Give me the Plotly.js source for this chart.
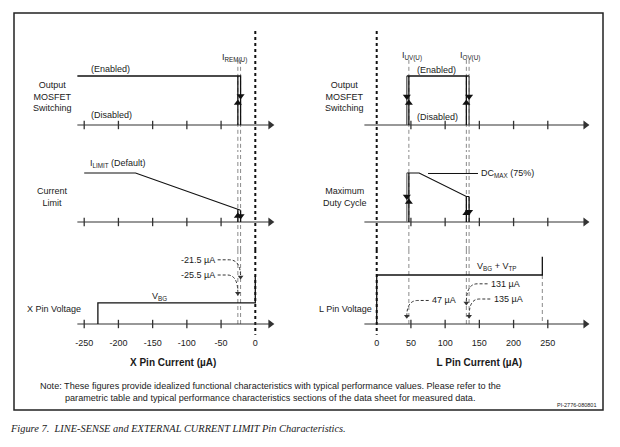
<!DOCTYPE html>
<html><head><meta charset="utf-8">
<script src="https://cdn.plot.ly/plotly-3.0.1.min.js"></script>
<style>html,body{margin:0;padding:0;background:#fff}#chart{width:620px;height:447px}</style>
</head><body><div id="chart"></div>
<script>
// ================= DATA =================
const xTicksLeft  = [-250, -200, -150, -100, -50, 0];
const xTicksRight = [0, 50, 100, 150, 200, 250];
const xTickTextLeft  = ['-250', '-200', '-150', '-100', '-50', '0'];
const xTickTextRight = ['0', '50', '100', '150', '200', '250'];

// X pin (external current limit / remote) thresholds, µA
const iRemOn  = -25.5;   // enable (up arrow)
const iRemOff = -21.5;   // disable (down arrow)
// L pin thresholds, µA
const iUvOff = 44;       // under-voltage: disable on falling current
const iUvOn  = 47;       // under-voltage: enable on rising current
const iOvOn  = 131;      // over-voltage: re-enable on falling current
const iOvOff = 135;      // over-voltage: disable on rising current
const lPinMax = 242;     // end of L pin voltage plateau

// levels (0 = disabled / zero, 1 = enabled / full)
const switchLeftX  = [-260, iRemOff, iRemOff];
const switchLeftY  = [1, 1, 0];
const iLimitX = [-250, -175, iRemOff];
const iLimitY = [1, 1, 0.24];
const iLimitAtOn = 0.26;
const xPinVX = [-230, -230, 0, 0];
const xPinVY = [0, 0.43, 0.43, 0.98];

const switchRightX = [iUvOff, iOvOff];
const switchRightY = [1, 1];
const dcMaxX = [iUvOff, 62, iOvOn, iOvOff];
const dcMaxY = [1, 1, 0.52, 0.52];
const lPinVX = [0, 0, lPinMax, lPinMax];
const lPinVY = [0, 1, 1, 1.37];

// ================= LAYOUT HELPERS =================
const W = 620, H = 447, UNIT = 49;
const rows = [{base:125, top:27, bot:150}, {base:222, top:150, bot:250}, {base:324, top:250, bot:336}];
const yNames = ['y', 'y2', 'y3'];
const pxPerUA = 0.6844;
const left = {zero:255.3, range:[-270, 30]};
const right = {zero:376.7, range:[-20, 320]};
function xdom(p){ return [(p.zero + p.range[0]*pxPerUA)/W, (p.zero + p.range[1]*pxPerUA)/W]; }
function yr(r){ return [(r.base - r.bot)/UNIT, (r.base - r.top)/UNIT]; }
function pxX(p){ return p / W; }
function pxY(p){ return 1 - p / H; }

const traces = [];
const shapes = [];
const ann = [];
const FONT = 'Liberation Sans, Arial, sans-serif';
const TXT = '#1a1a1a';

function line(xa, row, xs, ys, color, width, dash) {
  traces.push({type:'scatter', mode:'lines', x:xs, y:ys, xaxis:xa, yaxis:yNames[row],
    hoverinfo:'skip', showlegend:false,
    line:{color:color||'#111', width:width||1.2, dash:dash||'solid'}});
}
function mark(xa, row, xs, ys, symbol, size, color) {
  traces.push({type:'scatter', mode:'markers', x:xs, y:ys, xaxis:xa, yaxis:yNames[row],
    hoverinfo:'skip', showlegend:false, cliponaxis:false,
    marker:{symbol:symbol, size:size, color:color||'#111', line:{width:0}}});
}
function ticks(xa, row, vals) {
  traces.push({type:'scatter', mode:'markers', x:vals, y:vals.map(()=>0), xaxis:xa, yaxis:yNames[row],
    hoverinfo:'skip', showlegend:false, cliponaxis:false,
    marker:{symbol:'line-ns', size:6, line:{width:1.3, color:'#333'}}});
}
function axisArrow(xa, row, x0, x1) {
  line(xa, row, [x0, x1], [0, 0], '#333', 1.1);
  mark(xa, row, [x1], [0], 'triangle-right', 8, '#333');
}
function txt(xr, yref, x, y, text, xanchor, size, extra) {
  ann.push(Object.assign({xref:xr, yref:yref, x:x, y:y, text:text, showarrow:false,
    xanchor:xanchor||'left', yanchor:'middle', align:'center',
    font:{family:FONT, size:size||9, color:TXT}}, extra||{}));
}
function leader(xr, yref, row, sx, sy, hx, tx, ty) {
  shapes.push({type:'path', xref:xr, yref:yref, layer:'above',
    path:`M ${sx},${sy} L ${hx},${sy} Q ${tx},${sy} ${tx},${ty}`,
    line:{color:'#333', width:1, dash:'3px,2px'}});
  mark(xr, row, [tx], [ty], 'triangle-down', 5, '#333');
}

// ================= LEFT PANEL (X pin) =================
const DASH = '4px,3px';
line('x', 0, [0, 0], [1.92, yr(rows[0])[0]], '#111', 2, 'dot');
line('x', 1, [0, 0], yr(rows[1]), '#111', 2, 'dot');
line('x', 2, [0, 0], [yr(rows[2])[1], -0.22], '#111', 2, 'dot');
[iRemOn, iRemOff].forEach(v => {
  line('x', 0, [v, v], [1.33, yr(rows[0])[0]], '#8a8a8a', 1, DASH);
  line('x', 1, [v, v], yr(rows[1]), '#8a8a8a', 1, DASH);
  line('x', 2, [v, v], [yr(rows[2])[1], 0], '#8a8a8a', 1, DASH);
});
for (let r = 0; r < 3; r++) {
  axisArrow('x', r, -260, 22);
  ticks('x', r, xTicksLeft.slice(0, 5));
}
// row 1: switching
line('x', 0, switchLeftX, switchLeftY, '#111', 1.3);
line('x', 0, [iRemOn, iRemOn], [0, 1], '#111', 1.3);
mark('x', 0, [iRemOff], [0.59], 'triangle-down', 7);
mark('x', 0, [iRemOn], [0.45], 'triangle-up', 7);
// row 2: current limit
line('x', 1, iLimitX, iLimitY, '#111', 1.2);
line('x', 1, [iRemOff, iRemOff], [iLimitY[2], 0], '#111', 1.3);
line('x', 1, [iRemOn, iRemOn], [0, iLimitAtOn], '#111', 1.3);
mark('x', 1, [iRemOn], [0.12], 'triangle-up', 7);
mark('x', 1, [iRemOff], [0.12], 'triangle-down', 7);
// row 3: X pin voltage
line('x', 2, xPinVX, xPinVY, '#111', 1.3);

// ================= RIGHT PANEL (L pin) =================
line('x2', 0, [0, 0], [1.92, yr(rows[0])[0]], '#111', 2, 'dot');
line('x2', 1, [0, 0], yr(rows[1]), '#111', 2, 'dot');
line('x2', 2, [0, 0], [yr(rows[2])[1], -0.22], '#111', 2, 'dot');
[iUvOn, iOvOn, iOvOff].forEach(v => {
  line('x2', 0, [v, v], [1.33, yr(rows[0])[0]], '#8a8a8a', 1, DASH);
  line('x2', 1, [v, v], yr(rows[1]), '#8a8a8a', 1, DASH);
  line('x2', 2, [v, v], [yr(rows[2])[1], 0], '#8a8a8a', 1, DASH);
});
line('x2', 2, [lPinMax, lPinMax], [1, 0], '#8a8a8a', 1, DASH);
for (let r = 0; r < 3; r++) {
  axisArrow('x2', r, -18, 305);
  ticks('x2', r, xTicksRight.slice(1));
}
// row 1: switching
line('x2', 0, switchRightX, switchRightY, '#111', 1.3);
line('x2', 0, [iUvOff, iUvOff], [1, 0], '#555', 1.3);
line('x2', 0, [iUvOn, iUvOn], [0, 1], '#111', 1.3);
line('x2', 0, [iOvOn, iOvOn], [0, 1], '#111', 1.3);
line('x2', 0, [iOvOff, iOvOff], [1, 0], '#555', 1.3);
mark('x2', 0, [iUvOff, iOvOff], [0.58, 0.58], 'triangle-down', 7);
mark('x2', 0, [iUvOn, iOvOn], [0.45, 0.45], 'triangle-up', 7);
// row 2: max duty cycle
line('x2', 1, dcMaxX, dcMaxY, '#111', 1.2);
line('x2', 1, [iUvOff, iUvOff], [1, 0], '#777', 1.3);
line('x2', 1, [iUvOn, iUvOn], [0, 1], '#111', 1.3);
line('x2', 1, [iOvOn, iOvOn], [0, dcMaxY[2]], '#111', 1.3);
line('x2', 1, [iOvOff, iOvOff], [dcMaxY[3], 0], '#111', 1.3);
mark('x2', 1, [iUvOff], [0.52], 'triangle-down', 7);
mark('x2', 1, [iUvOn], [0.41], 'triangle-up', 7);
mark('x2', 1, [iOvOn], [0.18], 'triangle-up', 7);
mark('x2', 1, [iOvOff], [0.21], 'triangle-down', 7);
line('x2', 1, [75, 148], [0.99, 0.99], '#111', 1);   // DC_MAX leader
// row 3: L pin voltage
line('x2', 2, lPinVX, lPinVY, '#111', 1.3);

// ================= TEXT =================
txt('x', 'y', -243, 1.14, '(Enabled)');
txt('x', 'y', -243, 0.2, '(Disabled)');
txt('x', 'y', -51, 1.36, 'I<sub>REM(U)</sub>');
txt('x', 'y2', -244, 1.2, 'I<sub>LIMIT</sub> (Default)');
txt('x', 'y3', -140, 0.57, 'V<sub>BG</sub>', 'center');
txt('x', 'y3', -56, 1.31, '-21.5 µA', 'right');
txt('x', 'y3', -56, 1.0, '-25.5 µA', 'right');
leader('x', 'y3', 2, -55, 1.31, -38, iRemOff, 0.96);
leader('x', 'y3', 2, -55, 1.0, -41, iRemOn, 0.63);
txt('x2', 'y', 56, 1.12, '(Enabled)');
txt('x2', 'y', 56, 0.16, '(Disabled)');
txt('x2', 'y', 34, 1.41, 'I<sub>UV(U)</sub>');
txt('x2', 'y', 119, 1.41, 'I<sub>OV(U)</sub>');
txt('x2', 'y2', 150, 0.99, 'DC<sub>MAX</sub> (75%)');
txt('x2', 'y3', 144, 1.18, 'V<sub>BG</sub> + V<sub>TP</sub>');
txt('x2', 'y3', 78, 0.48, '47 µA');
txt('x2', 'y3', 164, 0.82, '131 µA');
txt('x2', 'y3', 168, 0.51, '135 µA');
leader('x2', 'y3', 2, 76, 0.48, 60, iUvOff, 0.16);
leader('x2', 'y3', 2, 162, 0.82, 147, iOvOn, 0.43);
leader('x2', 'y3', 2, 166, 0.51, 150, iOvOff, 0.16);
txt('paper', 'paper', pxX(52), pxY(97), 'Output<br>MOSFET<br>Switching', 'center');
txt('paper', 'paper', pxX(52), pxY(197), 'Current<br>Limit', 'center');
txt('paper', 'paper', pxX(25), pxY(309), 'X Pin Voltage', 'left');
txt('paper', 'paper', pxX(345), pxY(97), 'Output<br>MOSFET<br>Switching', 'center');
txt('paper', 'paper', pxX(345), pxY(197), 'Maximum<br>Duty Cycle', 'center');
txt('paper', 'paper', pxX(317), pxY(309), 'L Pin Voltage', 'left');
txt('paper', 'paper', pxX(38), pxY(386), 'Note: These figures provide idealized functional characteristics with typical performance values. Please refer to the', 'left', 9.1);
txt('paper', 'paper', pxX(63), pxY(397.5), 'parametric table and typical performance characteristics sections of the data sheet for measured data.', 'left', 9.1);
txt('paper', 'paper', pxX(598), pxY(405), 'PI-2776-080801', 'right', 5.5);
txt('paper', 'paper', pxX(8), pxY(428), 'Figure 7.  LINE-SENSE and EXTERNAL CURRENT LIMIT Pin Characteristics.', 'left', 10.4,
  {font:{family:'Liberation Serif, Times New Roman, serif', size:10.4, color:TXT, style:'italic'}});

shapes.push({type:'rect', xref:'paper', yref:'paper', x0:pxX(14), x1:pxX(603), y0:pxY(410), y1:pxY(13),
  line:{color:'#222', width:1.5}, fillcolor:'rgba(0,0,0,0)'});

const xaxisCommon = {showgrid:false, zeroline:false, showline:false, ticks:'', anchor:'y3',
  tickfont:{family:FONT, size:9, color:TXT}, fixedrange:true};
const layout = {
  width:W, height:H, margin:{l:0, r:0, t:0, b:0}, autosize:false,
  paper_bgcolor:'#fff', plot_bgcolor:'rgba(0,0,0,0)', showlegend:false,
  xaxis: Object.assign({}, xaxisCommon, {domain:xdom(left), range:left.range,
    tickmode:'array', tickvals:xTicksLeft, ticktext:xTickTextLeft,
    title:{text:'<b>X Pin Current (µA)</b>', font:{family:FONT, size:10, color:TXT}, standoff:11}}),
  xaxis2: Object.assign({}, xaxisCommon, {domain:xdom(right), range:right.range,
    tickmode:'array', tickvals:xTicksRight, ticktext:xTickTextRight,
    title:{text:'<b>L Pin Current (µA)</b>', font:{family:FONT, size:10, color:TXT}, standoff:11}}),
  yaxis:  {domain:[pxY(rows[0].bot), pxY(rows[0].top)], range:yr(rows[0]), visible:false, anchor:'x', fixedrange:true},
  yaxis2: {domain:[pxY(rows[1].bot), pxY(rows[1].top)], range:yr(rows[1]), visible:false, anchor:'x', fixedrange:true},
  yaxis3: {domain:[pxY(rows[2].bot), pxY(rows[2].top)], range:yr(rows[2]), visible:false, anchor:'x', fixedrange:true},
  shapes:shapes, annotations:ann,
  font:{family:FONT, color:TXT}
};
Plotly.newPlot('chart', traces, layout, {staticPlot:true, displayModeBar:false});
</script></body></html>
